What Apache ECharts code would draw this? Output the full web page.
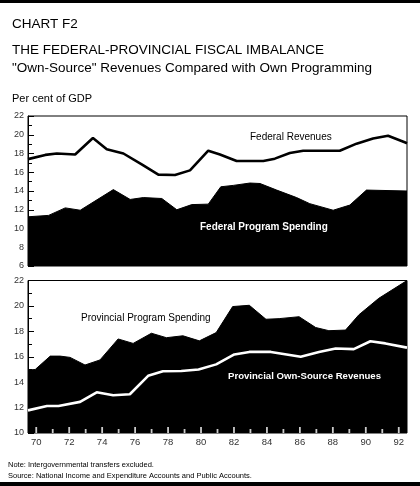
<!DOCTYPE html>
<html lang="en">
<head>
    <meta charset="UTF-8">
    <title>Chart F2</title>
    <script src="https://cdn.jsdelivr.net/npm/echarts@6/dist/echarts.min.js"></script>
    <style>
        body {
            margin: 0;
            background: #fff;
        }
        #main {
            width: 420px;
            height: 486px;
        }
    </style>
</head>
<body>
<div id="main"></div>

<script>
    // values, as [year, per cent of GDP]
    var fedRevenues = [
        [69.5, 17.4], [70.55, 17.85], [71.25, 18.0], [72.36, 17.9], [73.44, 19.65],
        [74.28, 18.45], [75.29, 18.0], [76.4, 16.85], [77.41, 15.75], [78.42, 15.7],
        [79.33, 16.2], [80.44, 18.3], [81.15, 17.9], [82.16, 17.2], [83.78, 17.2],
        [84.48, 17.45], [85.39, 18.05], [86.2, 18.3], [88.42, 18.3], [89.44, 19.05],
        [90.44, 19.6], [91.35, 19.9], [92.36, 19.2], [92.5, 19.1]
    ];
    var fedSpending = [
        [69.5, 11.25], [70.75, 11.4], [71.76, 12.2], [72.67, 11.95], [74.68, 14.15],
        [75.7, 13.1], [76.5, 13.3], [77.62, 13.2], [78.53, 12.0], [79.44, 12.55],
        [80.44, 12.6], [81.2, 14.45], [81.96, 14.6], [82.97, 14.85], [83.58, 14.8],
        [84.59, 14.1], [85.8, 13.3], [86.6, 12.65], [88.02, 11.95], [89.03, 12.5],
        [90.04, 14.1], [92.5, 14.0]
    ];
    var provSpending = [
        [69.5, 14.95], [69.94, 15.0], [70.85, 16.05], [71.45, 16.05], [72.05, 15.95],
        [72.96, 15.35], [73.87, 15.75], [74.97, 17.4], [75.88, 17.05], [76.99, 17.85],
        [77.9, 17.5], [78.9, 17.65], [79.9, 17.25], [80.92, 17.9], [81.92, 19.95],
        [82.93, 20.05], [83.94, 18.95], [84.74, 19.0], [85.95, 19.15], [86.96, 18.3],
        [87.76, 18.05], [88.77, 18.1], [89.58, 19.3], [90.79, 20.6], [92.5, 22.0]
    ];
    var provRevenues = [
        [69.5, 11.78], [70.65, 12.12], [71.35, 12.12], [72.66, 12.45], [73.67, 13.2],
        [74.67, 12.97], [75.68, 13.05], [76.79, 14.5], [77.69, 14.86], [78.8, 14.88],
        [79.85, 15.0], [80.92, 15.4], [82.02, 16.18], [82.93, 16.38], [84.24, 16.38],
        [86.05, 16.0], [87.16, 16.38], [88.17, 16.65], [89.27, 16.6], [90.28, 17.22],
        [91.19, 17.05], [92.5, 16.72]
    ];
    var yearLabels = ['70', '71', '72', '73', '74', '75', '76', '77', '78', '79', '80',
        '81', '82', '83', '84', '85', '86', '87', '88', '89', '90', '91', '92'];

    var FONT = 'Liberation Sans, Arial, sans-serif';

    function txt(text, left, top, size, opts) {
        opts = opts || {};
        return {
            text: text,
            left: left,
            top: top,
            padding: 0,
            textStyle: {
                fontFamily: FONT,
                fontSize: size,
                lineHeight: Math.round(size * 1.2),
                fontWeight: opts.bold ? 'bold' : 'normal',
                color: opts.color || '#000'
            }
        };
    }

    function yAxis(gridIndex, min) {
        return {
            type: 'value',
            gridIndex: gridIndex,
            min: min,
            max: 22,
            interval: 2,
            axisLine: {show: true, lineStyle: {color: '#000', width: 1}},
            axisTick: {show: true, inside: true, length: 6, lineStyle: {color: '#000'}},
            minorTick: {show: true, splitNumber: 2, length: 4, lineStyle: {color: '#000'}},
            axisLabel: {fontFamily: FONT, fontSize: 9, color: '#333', margin: 4},
            splitLine: {show: false}
        };
    }

    // hidden value axis the series are drawn on
    function dataX(gridIndex) {
        return {
            type: 'value', gridIndex: gridIndex, min: 69.5, max: 92.5,
            position: 'bottom',
            show: false
        };
    }

    // white year ticks inside the black area, drawn as a series so they sit on top
    function yearTicks(major) {
        return {
            type: 'scatter',
            xAxisIndex: 1, yAxisIndex: 1,
            silent: true,
            clip: false,
            symbol: 'rect',
            symbolSize: [1.8, major ? 6 : 4],
            symbolOffset: [0, '-50%'],
            itemStyle: {color: '#fff'},
            data: yearLabels.map(Number)
                .filter(function (y) { return (y % 2 === 0) === major; })
                .map(function (y) { return [y, 10]; }),
            z: 5
        };
    }

    var chart = echarts.init(document.getElementById('main'));

    chart.setOption({
        animation: false,
        backgroundColor: '#fff',
        title: [
            txt('CHART F2', 12, 16, 13.5),
            txt('THE FEDERAL-PROVINCIAL FISCAL IMBALANCE', 12, 42, 13.5),
            txt('"Own-Source" Revenues Compared with Own Programming', 12, 60.5, 13.5),
            txt('Per cent of GDP', 12, 92, 11),
            txt('Federal Revenues', 250, 131.7, 10),
            txt('Federal Program Spending', 200, 221.7, 10, {bold: true, color: '#fff'}),
            txt('Provincial Program Spending', 81, 312.3, 10),
            txt('Provincial Own-Source Revenues', 228, 370.7, 9.6, {bold: true, color: '#fff'}),
            txt('Note: Intergovernmental transfers excluded.', 8, 460.5, 7.5),
            txt('Source: National Income and Expenditure Accounts and Public Accounts.', 8, 471, 7.5)
        ],
        graphic: [
            {type: 'rect', left: 0, top: 0, shape: {width: 420, height: 3}, style: {fill: '#000'}},
            {type: 'rect', left: 0, top: 482, shape: {width: 420, height: 4}, style: {fill: '#000'}}
        ],
        grid: [
            {left: 28, right: 13, top: 116, height: 150, show: true, borderColor: '#000', borderWidth: 1},
            {left: 28, right: 13, top: 280.5, height: 152.5, show: true, borderColor: '#000', borderWidth: 1}
        ],
        xAxis: [
            dataX(0),
            dataX(1),
            {
                // year labels: one band per year, label at band centre
                type: 'category',
                gridIndex: 1,
                position: 'bottom',
                data: yearLabels,
                boundaryGap: true,
                axisLine: {show: false},
                axisTick: {show: false},
                axisLabel: {
                    interval: 1,
                    fontFamily: FONT,
                    fontSize: 9.5,
                    color: '#333',
                    margin: 4
                }
            }
        ],
        yAxis: [
            yAxis(0, 6),
            yAxis(1, 10)
        ],
        series: [
            {
                name: 'Federal Program Spending',
                type: 'line',
                xAxisIndex: 0, yAxisIndex: 0,
                data: fedSpending,
                showSymbol: false,
                lineStyle: {color: '#000', width: 1},
                areaStyle: {color: '#000', opacity: 1, origin: 'start'}
            },
            {
                name: 'Federal Revenues',
                type: 'line',
                xAxisIndex: 0, yAxisIndex: 0,
                data: fedRevenues,
                showSymbol: false,
                lineStyle: {color: '#000', width: 2.6}
            },
            {
                name: 'Provincial Program Spending',
                type: 'line',
                xAxisIndex: 1, yAxisIndex: 1,
                data: provSpending,
                showSymbol: false,
                lineStyle: {color: '#000', width: 1},
                areaStyle: {color: '#000', opacity: 1, origin: 'start'}
            },
            {
                name: 'Provincial Own-Source Revenues',
                type: 'line',
                xAxisIndex: 1, yAxisIndex: 1,
                data: provRevenues,
                showSymbol: false,
                lineStyle: {color: '#fff', width: 2.6}
            },
            yearTicks(true),
            yearTicks(false)
        ]
    });
</script>

</body>
</html>
